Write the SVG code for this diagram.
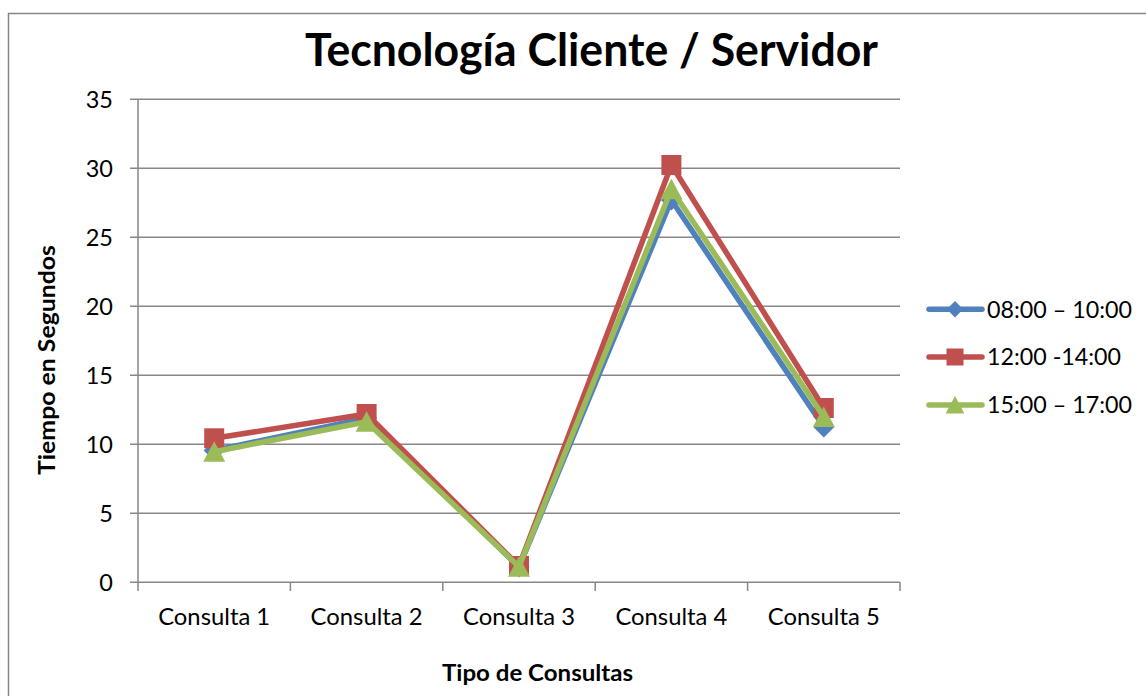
<svg xmlns="http://www.w3.org/2000/svg" xmlns:xlink="http://www.w3.org/1999/xlink" width="1146" height="696" viewBox="0 0 1146 696">
  <style>
    .frame { fill: #ffffff; stroke: #878787; stroke-width: 1.5; }
    .grid { stroke: #878787; stroke-width: 1.5; fill: none; }
    .tick { font-family: Lato, "Liberation Sans", Arial, sans-serif; font-size: 23.5px; fill: #000000; }
    .title { font-family: Lato, "Liberation Sans", Arial, sans-serif; font-size: 45px; font-weight: bold; fill: #000000; }
    .axis-title { font-family: Lato, "Liberation Sans", Arial, sans-serif; font-size: 22.5px; font-weight: bold; fill: #000000; }
    .line { fill: none; stroke-width: 5.5; stroke-linejoin: round; stroke-linecap: round; }
    .blue { stroke: #4F81BD; }
    .red { stroke: #C0504D; }
    .green { stroke: #9BBB59; }
    .fblue { fill: #4F81BD; }
    .fred { fill: #C0504D; }
    .fgreen { fill: #9BBB59; }
  </style>
  <defs>
    <polygon id="mk-diamond" points="0,-10.5 10.5,0 0,10.5 -10.5,0"/>
    <rect id="mk-square" x="-10" y="-10" width="20" height="20"/>
    <polygon id="mk-triangle" points="0,-10.5 11,10 -11,10"/>
  </defs>

  <!-- chart frame -->
  <rect class="frame" x="8.5" y="13.5" width="1160" height="700"/>

  <!-- title -->
  <g id="title">
    <text class="title" x="591.5" y="66" text-anchor="middle" textLength="573" lengthAdjust="spacingAndGlyphs">Tecnología Cliente / Servidor</text>
  </g>

  <!-- value axis, gridlines and labels -->
  <g id="value-axis">
    <path class="grid" d="M130 99.3H900 M130 168.3H900 M130 237.3H900 M130 306.3H900 M130 375.3H900 M130 444.3H900 M130 513.3H900 M130 582.3H900 M138 99.3V582.3"/>
    <g class="tick" text-anchor="end">
      <text x="113" y="107.5">35</text>
      <text x="113" y="176.5">30</text>
      <text x="113" y="245.5">25</text>
      <text x="113" y="314.5">20</text>
      <text x="113" y="383.5">15</text>
      <text x="113" y="452.5">10</text>
      <text x="113" y="521.5">5</text>
      <text x="113" y="590.5">0</text>
    </g>
    <text class="axis-title" transform="translate(55 360) rotate(-90)" text-anchor="middle" textLength="230" lengthAdjust="spacingAndGlyphs">Tiempo en Segundos</text>
  </g>

  <!-- category axis -->
  <g id="category-axis">
    <path class="grid" d="M138 582.3V591 M290.4 582.3V591 M442.8 582.3V591 M595.2 582.3V591 M747.6 582.3V591 M900 582.3V591"/>
    <g class="tick" text-anchor="middle">
      <text x="214.2" y="625" textLength="112" lengthAdjust="spacingAndGlyphs">Consulta 1</text>
      <text x="366.6" y="625" textLength="112" lengthAdjust="spacingAndGlyphs">Consulta 2</text>
      <text x="519" y="625" textLength="112" lengthAdjust="spacingAndGlyphs">Consulta 3</text>
      <text x="671.4" y="625" textLength="112" lengthAdjust="spacingAndGlyphs">Consulta 4</text>
      <text x="823.8" y="625" textLength="112" lengthAdjust="spacingAndGlyphs">Consulta 5</text>
    </g>
    <text class="axis-title" x="537.5" y="681" text-anchor="middle" textLength="191" lengthAdjust="spacingAndGlyphs">Tipo de Consultas</text>
  </g>

  <!-- data series -->
  <g id="series">
    <g id="series-0800-1000">
      <polyline class="line blue" points="214.2,450.5 366.6,418.1 519,567.1 671.4,200 823.8,427"/>
      <g class="fblue">
        <use xlink:href="#mk-diamond" x="214.2" y="450.5"/>
        <use xlink:href="#mk-diamond" x="366.6" y="418.1"/>
        <use xlink:href="#mk-diamond" x="519" y="567.1"/>
        <use xlink:href="#mk-diamond" x="671.4" y="200"/>
        <use xlink:href="#mk-diamond" x="823.8" y="427"/>
      </g>
    </g>
    <g id="series-1200-1400">
      <polyline class="line red" points="214.2,438.3 366.6,414 519,566 671.4,165 823.8,408"/>
      <g class="fred">
        <use xlink:href="#mk-square" x="214.2" y="438.3"/>
        <use xlink:href="#mk-square" x="366.6" y="414"/>
        <use xlink:href="#mk-square" x="519" y="566"/>
        <use xlink:href="#mk-square" x="671.4" y="165"/>
        <use xlink:href="#mk-square" x="823.8" y="408"/>
      </g>
    </g>
    <g id="series-1500-1700">
      <polyline class="line green" points="214.2,451.7 366.6,421.7 519,566.7 671.4,189.3 823.8,417"/>
      <g class="fgreen">
        <use xlink:href="#mk-triangle" x="214.2" y="451.7"/>
        <use xlink:href="#mk-triangle" x="366.6" y="421.7"/>
        <use xlink:href="#mk-triangle" x="519" y="566.7"/>
        <use xlink:href="#mk-triangle" x="671.4" y="189.3"/>
        <use xlink:href="#mk-triangle" x="823.8" y="417"/>
      </g>
    </g>
  </g>

  <!-- legend -->
  <g id="legend">
    <g id="legend-0800-1000">
      <line class="line blue" x1="929" y1="309.3" x2="982" y2="309.3"/>
      <use class="fblue" xlink:href="#mk-diamond" transform="translate(955 309.3) scale(0.78)"/>
      <text class="tick" x="987" y="317.5" textLength="145" lengthAdjust="spacingAndGlyphs">08:00 – 10:00</text>
    </g>
    <g id="legend-1200-1400">
      <line class="line red" x1="929" y1="357" x2="982" y2="357"/>
      <use class="fred" xlink:href="#mk-square" transform="translate(955 357) scale(0.85)"/>
      <text class="tick" x="987" y="365.2" textLength="134" lengthAdjust="spacingAndGlyphs">12:00 -14:00</text>
    </g>
    <g id="legend-1500-1700">
      <line class="line green" x1="929" y1="405" x2="982" y2="405"/>
      <use class="fgreen" xlink:href="#mk-triangle" transform="translate(955 405) scale(0.85)"/>
      <text class="tick" x="987" y="413.2" textLength="145" lengthAdjust="spacingAndGlyphs">15:00 – 17:00</text>
    </g>
  </g>
</svg>
